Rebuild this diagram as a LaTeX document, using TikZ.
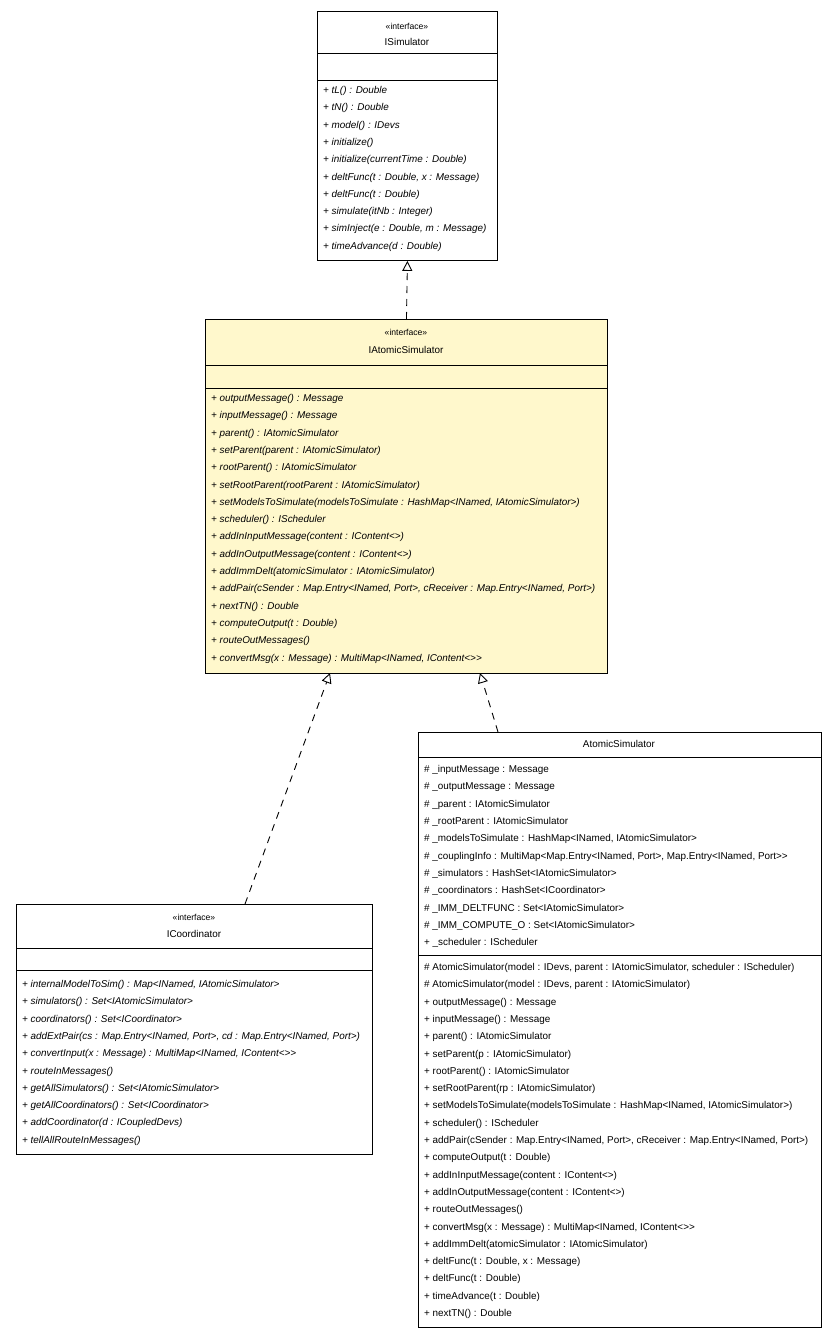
\documentclass[tikz,border=0pt]{standalone}
\usepackage{fontspec}
\setmainfont{Liberation Sans}[Ligatures=ResetAll]
\usetikzlibrary{arrows.meta}
\definecolor{notey}{HTML}{FFF8CC}
\begin{document}
\begin{tikzpicture}[
    x=1pt, y=-1pt,
    box/.style={draw, rectangle, inner sep=0pt, anchor=north west, line width=0.9pt},
    stereo/.style={font=\fontsize{8.6}{9}\selectfont},
    cname/.style={font=\fontsize{9.9}{10}\selectfont},
    op/.style={anchor=west, inner sep=0pt, font=\fontsize{9.9}{10}\selectfont\itshape},
    attr/.style={anchor=west, inner sep=0pt, font=\fontsize{9.9}{10}\selectfont},
    impl/.style={line width=0.9pt, dash pattern=on 7pt off 6pt, -{Triangle[open,length=10pt,width=10pt]}}
]
    \useasboundingbox (0,0) rectangle (837,1337);

    % ISimulator
    \node [box, minimum width=180pt, minimum height=249pt] (isim) at (317,11) {};
    \node [stereo] (isimS) at (407,26) {«interface»};
    \node [cname] (isimN) at (407,42) {ISimulator};
    \draw [line width=0.9pt] (317,53) -- (497,53);
    \draw [line width=0.9pt] (317,80) -- (497,80);
    \foreach \t [count=\i] in {{+ tL() : Double},{+ tN() : Double},{+ model() : IDevs},{+ initialize()},
        {+ initialize(currentTime : Double)},{+ deltFunc(t : Double, x : Message)},{+ deltFunc(t : Double)},
        {+ simulate(itNb : Integer)},{+ simInject(e : Double, m : Message)},{+ timeAdvance(d : Double)}}
        \node [op] at (323,{91+17.3*(\i-1)}) {\t};

    % IAtomicSimulator
    \node [box, fill=notey, minimum width=402pt, minimum height=354pt] (asim) at (205,319) {};
    \node [stereo] (asimS) at (406,332) {«interface»};
    \node [cname] (asimN) at (406,350) {IAtomicSimulator};
    \draw [line width=0.9pt] (205,365) -- (607,365);
    \draw [line width=0.9pt] (205,388) -- (607,388);
    \foreach \t [count=\i] in {{+ outputMessage() : Message},{+ inputMessage() : Message},
        {+ parent() : IAtomicSimulator},{+ setParent(parent : IAtomicSimulator)},
        {+ rootParent() : IAtomicSimulator},{+ setRootParent(rootParent : IAtomicSimulator)},
        {+ setModelsToSimulate(modelsToSimulate : HashMap<INamed, IAtomicSimulator>)},
        {+ scheduler() : IScheduler},{+ addInInputMessage(content : IContent<>)},
        {+ addInOutputMessage(content : IContent<>)},{+ addImmDelt(atomicSimulator : IAtomicSimulator)},
        {+ addPair(cSender : Map.Entry<INamed, Port>, cReceiver : Map.Entry<INamed, Port>)},
        {+ nextTN() : Double},{+ computeOutput(t : Double)},{+ routeOutMessages()},
        {+ convertMsg(x : Message) : MultiMap<INamed, IContent<>{}>}}
        \node [op] at (211,{399+17.3*(\i-1)}) {\t};

    % ICoordinator
    \node [box, minimum width=356pt, minimum height=250pt] (icoord) at (16,904) {};
    \node [stereo] (icoordS) at (194,917) {«interface»};
    \node [cname] (icoordN) at (194,934) {ICoordinator};
    \draw [line width=0.9pt] (16,948) -- (372,948);
    \draw [line width=0.9pt] (16,970) -- (372,970);
    \foreach \t [count=\i] in {{+ internalModelToSim() : Map<INamed, IAtomicSimulator>},
        {+ simulators() : Set<IAtomicSimulator>},{+ coordinators() : Set<ICoordinator>},
        {+ addExtPair(cs : Map.Entry<INamed, Port>, cd : Map.Entry<INamed, Port>)},
        {+ convertInput(x : Message) : MultiMap<INamed, IContent<>{}>},{+ routeInMessages()},
        {+ getAllSimulators() : Set<IAtomicSimulator>},{+ getAllCoordinators() : Set<ICoordinator>},
        {+ addCoordinator(d : ICoupledDevs)},{+ tellAllRouteInMessages()}}
        \node [op] at (22,{985+17.3*(\i-1)}) {\t};

    % AtomicSimulator
    \node [box, minimum width=403pt, minimum height=595pt] (atom) at (418,732) {};
    \node [cname] (atomN) at (619,744) {AtomicSimulator};
    \draw [line width=0.9pt] (418,757) -- (821,757);
    \draw [line width=0.9pt] (418,955) -- (821,955);
    \foreach \t [count=\i] in {{\# \_inputMessage : Message},{\# \_outputMessage : Message},
        {\# \_parent : IAtomicSimulator},{\# \_rootParent : IAtomicSimulator},
        {\# \_modelsToSimulate : HashMap<INamed, IAtomicSimulator>},
        {\# \_couplingInfo : MultiMap<Map.Entry<INamed, Port>, Map.Entry<INamed, Port>{}>},
        {\# \_simulators : HashSet<IAtomicSimulator>},{\# \_coordinators : HashSet<ICoordinator>},
        {\# \_IMM\_DELTFUNC : Set<IAtomicSimulator>},{\# \_IMM\_COMPUTE\_O : Set<IAtomicSimulator>},
        {+ \_scheduler : IScheduler}}
        \node [attr] at (424,{770+17.3*(\i-1)}) {\t};
    \foreach \t [count=\i] in {{\# AtomicSimulator(model : IDevs, parent : IAtomicSimulator, scheduler : IScheduler)},
        {\# AtomicSimulator(model : IDevs, parent : IAtomicSimulator)},
        {+ outputMessage() : Message},{+ inputMessage() : Message},{+ parent() : IAtomicSimulator},
        {+ setParent(p : IAtomicSimulator)},{+ rootParent() : IAtomicSimulator},
        {+ setRootParent(rp : IAtomicSimulator)},
        {+ setModelsToSimulate(modelsToSimulate : HashMap<INamed, IAtomicSimulator>)},
        {+ scheduler() : IScheduler},
        {+ addPair(cSender : Map.Entry<INamed, Port>, cReceiver : Map.Entry<INamed, Port>)},
        {+ computeOutput(t : Double)},{+ addInInputMessage(content : IContent<>)},
        {+ addInOutputMessage(content : IContent<>)},{+ routeOutMessages()},
        {+ convertMsg(x : Message) : MultiMap<INamed, IContent<>{}>},
        {+ addImmDelt(atomicSimulator : IAtomicSimulator)},{+ deltFunc(t : Double, x : Message)},
        {+ deltFunc(t : Double)},{+ timeAdvance(t : Double)},{+ nextTN() : Double}}
        \node [attr] at (424,{968+17.3*(\i-1)}) {\t};

    % Realizations
    \coordinate (c1) at (245,904);
    \coordinate (t1) at (330,673);
    \coordinate (c2) at (498,732);
    \coordinate (t2) at (480,673);
    \draw [impl] (asim.north) -- (isim.south);
    \draw [impl] (c1) -- (t1);
    \draw [impl] (c2) -- (t2);
\end{tikzpicture}
\end{document}
